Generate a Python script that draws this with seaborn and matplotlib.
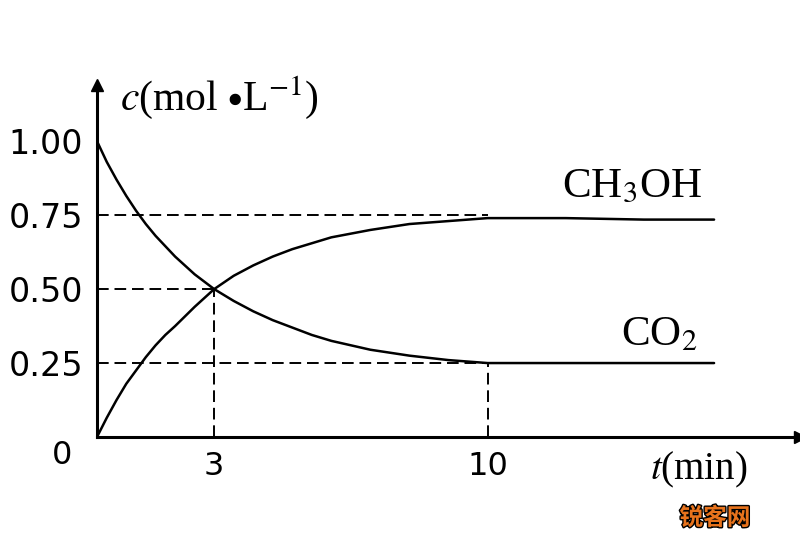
import numpy as np
import pandas as pd
import matplotlib
matplotlib.use('Agg')
import matplotlib.pyplot as plt
import matplotlib.patheffects as pe
import seaborn as sns

# values: concentration (mol/L) against time (min)
t_min = [0, 0.25, 0.5, 0.75, 1, 1.25, 1.5, 1.75, 2, 2.5, 3, 3.5, 4, 4.5, 5, 5.5, 6, 7, 8, 9, 10, 12, 14, 15.8]
co2 = [1.00, 0.93, 0.87, 0.815, 0.765, 0.72, 0.68, 0.645, 0.61, 0.55, 0.50, 0.46, 0.425, 0.395,
       0.37, 0.345, 0.325, 0.295, 0.275, 0.26, 0.25, 0.25, 0.25, 0.25]
ch3oh = [0.00, 0.065, 0.125, 0.18, 0.225, 0.27, 0.31, 0.345, 0.375, 0.44, 0.50, 0.545, 0.58, 0.61,
         0.635, 0.655, 0.675, 0.70, 0.72, 0.73, 0.74, 0.74, 0.735, 0.735]

y_ticks = [0.25, 0.50, 0.75, 1.00]
y_tick_labels = ['0.25', '0.50', '0.75', '1.00']
x_ticks = [3, 10]
x_tick_labels = ['3', '10']

# guide lines: (time, concentration) points marked on the axes
guide_t = [3, 10, 10]
guide_c = [0.50, 0.25, 0.75]

df = pd.DataFrame({
    't': t_min * 2,
    'c': co2 + ch3oh,
    'species': ['CO2'] * len(t_min) + ['CH3OH'] * len(t_min),
})

sns.set_style('white')
plt.rcParams['font.family'] = ['Liberation Serif', 'DejaVu Sans']
plt.rcParams['mathtext.fontset'] = 'stix'
plt.rcParams['text.color'] = 'black'
plt.rcParams['xtick.color'] = 'black'
plt.rcParams['ytick.color'] = 'black'

fig = plt.figure(figsize=(8, 5.5), dpi=100)
ax = fig.add_axes([97 / 800, 113 / 550, 703 / 800, 352 / 550])

sns.lineplot(data=df, x='t', y='c', hue='species', palette=['black', 'black'],
             linewidth=1.8, legend=False, ax=ax)

dash = (0, (6, 3))
for gt, gc in zip(guide_t, guide_c):
    ax.plot([0, gt], [gc, gc], color='black', lw=1.4, linestyle=dash)
    if gt == 3 or gc == 0.25:
        ax.plot([gt, gt], [0, gc], color='black', lw=1.4, linestyle=dash)

ax.set_xlim(0, 18)
ax.set_ylim(0, 1.19)
ax.set_xlabel('')
ax.set_ylabel('')

for side in ['top', 'right']:
    ax.spines[side].set_visible(False)
for side in ['left', 'bottom']:
    ax.spines[side].set_linewidth(2.2)
    ax.spines[side].set_color('black')

ax.plot(1, 0, '>', color='black', ms=9, transform=ax.get_yaxis_transform(), clip_on=False)
ax.plot(0, 1, '^', color='black', ms=9, transform=ax.get_xaxis_transform(), clip_on=False)

ax.set_yticks(y_ticks)
ax.set_yticklabels(y_tick_labels, family='DejaVu Sans', fontsize=24)
ax.set_xticks(x_ticks)
ax.set_xticklabels(x_tick_labels, family='DejaVu Sans', fontsize=23)
ax.tick_params(axis='y', length=0, pad=10)
ax.tick_params(axis='x', length=0, pad=10)

ax.annotate('0', (0, 0), xytext=(-35, -18), textcoords='offset pixels',
            ha='center', va='center', fontsize=23, family='DejaVu Sans',
            annotation_clip=False)

ax.text(0.59, 1.149, '$c$(mol $\\bullet$L$^{-1}$)', fontsize=30, ha='left', va='center',
        clip_on=False)
ax.text(15.4, -0.11, '$t$(min)', fontsize=28, ha='center', va='center', clip_on=False)
ax.text(13.7, 0.845, 'CH$_3$OH', fontsize=31, ha='center', va='center')
ax.text(14.4, 0.345, 'CO$_2$', fontsize=31, ha='center', va='center')

fig.text(715 / 800, 1 - 518 / 550, '锐客网', family=['Noto Sans CJK SC'], fontsize=17,
         fontweight='bold', color='#e8731c', ha='center', va='center',
         path_effects=[pe.withStroke(linewidth=2, foreground='black')])

fig.savefig('out.png', dpi=100, facecolor='white')
